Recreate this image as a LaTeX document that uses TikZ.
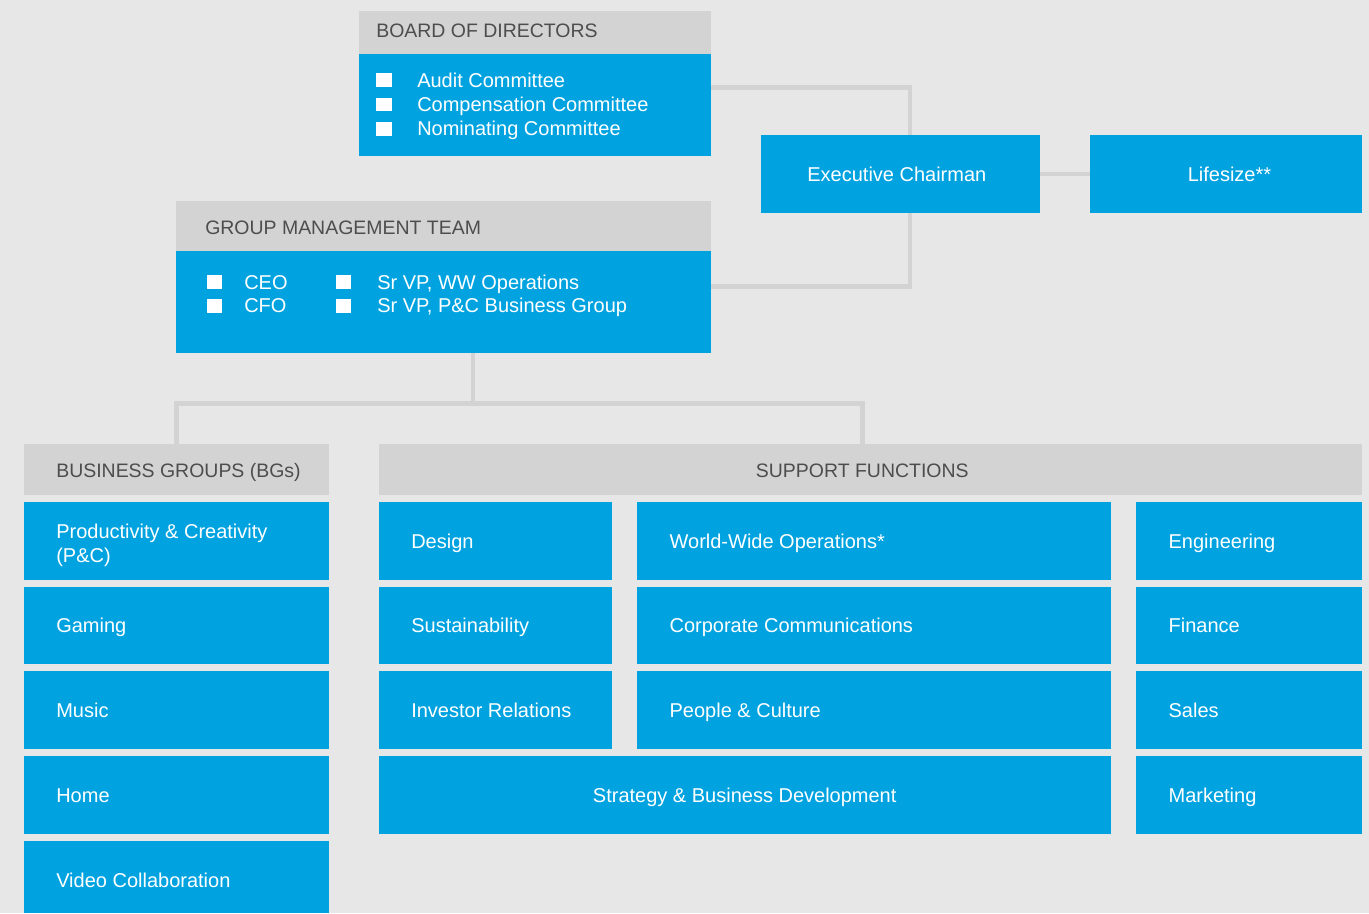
\documentclass[tikz,border=0pt]{standalone}
\usepackage{fontspec}
\setmainfont{Liberation Sans}
\definecolor{bgc}{HTML}{E7E7E7}
\definecolor{hdc}{HTML}{D3D3D3}
\definecolor{lnc}{HTML}{D3D3D3}
\definecolor{blc}{HTML}{00A3E0}
\definecolor{htc}{HTML}{4D4D4D}
\newcommand{\sqb}[1]{\rule{#1}{10.4pt}}
% name, style, x1, y1, x2, y2 (pixel coordinates)
\newcommand{\mkrect}[6]{\node[#2, minimum width={(#5-(#3))*0.75pt}, minimum height={(#6-(#4))*0.75pt}] (#1) at ({(#3+#5)/2},{(#4+#6)/2}) {};}
\tikzset{
  pxfont/.style={font=\fontsize{15pt}{17.8pt}\selectfont},
  hdfont/.style={font=\fontsize{14.6pt}{17.8pt}\selectfont},
  blk/.style={rectangle, inner sep=0pt, outer sep=0pt, draw=none},
  bluebox/.style={blk, fill=blc},
  headbox/.style={blk, fill=hdc},
  conn/.style={draw=lnc, line width=3.5pt, line join=miter},
  htext/.style={text=htc, hdfont, inner sep=0pt, anchor=base west},
  wtext/.style={text=white, pxfont, inner sep=0pt, anchor=base west},
  ctext/.style={text=white, pxfont, inner sep=0pt, anchor=base},
}
% left-aligned label inside a box
\newcommand{\lbl}[3]{\node[wtext] (#1) at ([xshift=24.25pt,yshift=-5.6pt]#2.west) {#3};}
\begin{document}
\begin{tikzpicture}[x=0.75pt,y=-0.75pt]
\fill[bgc] (0,0) rectangle (1369,913);
\useasboundingbox (0,0) rectangle (1369,913);

% ---------- boxes that sit under the connectors' ends
\mkrect{bodhead}{headbox}{358.8}{11}{710.5}{54}
\mkrect{bodblue}{bluebox}{358.8}{54}{710.5}{155.7}
\mkrect{gmthead}{headbox}{175.7}{201}{710.5}{251}
\mkrect{gmtblue}{bluebox}{175.7}{251}{710.5}{352.7}
\mkrect{bghead}{headbox}{23.7}{444}{328.6}{494.7}
\mkrect{sfhead}{headbox}{378.7}{444}{1362}{494.7}

% ---------- connectors
\coordinate (j1) at (910,87.3);
\coordinate (j2) at (910,286.7);
\draw[conn] (bodblue.east |- j1) -- (j1) -- (j2) -- (gmtblue.east |- j2);
\coordinate (t0) at (473,403.3);
\coordinate (tl) at (176.3,403.3);
\coordinate (tr) at (862.3,403.3);
\draw[conn] (gmtblue.south -| t0) -- (t0);
\draw[conn] (bghead.north -| tl) -- (tl) -- (tr) -- (sfhead.north -| tr);

% ---------- executive chairman / lifesize
\mkrect{exec}{bluebox}{760.6}{135}{1040}{212.7}
\mkrect{life}{bluebox}{1090}{135}{1362}{212.7}
\draw[conn] (exec.east) -- (life.west);
\node[ctext] (texec) at ([xshift=-2.6pt,yshift=-5.6pt]exec.center) {Executive Chairman};
\node[ctext] (tlife) at ([xshift=2.6pt,yshift=-5.6pt]life.center) {Lifesize**};

% ---------- board of directors
\node[htext] (tbod) at (376,37.3) {BOARD OF DIRECTORS};
\node[wtext] (b1) at (376,87.3) {\sqb{12pt}\hspace{18.75pt}Audit Committee};
\node[wtext] (b2) at (376,111.5) {\sqb{12pt}\hspace{18.75pt}Compensation Committee};
\node[wtext] (b3) at (376,135.8) {\sqb{12pt}\hspace{18.75pt}Nominating Committee};

% ---------- group management team
\node[htext] (tgmt) at (205,234.3) {GROUP MANAGEMENT TEAM};
\node[wtext] (g1) at (207,289) {\sqb{11.25pt}\hspace{16.5pt}CEO};
\node[wtext] (g2) at (207,312.7) {\sqb{11.25pt}\hspace{16.5pt}CFO};
\node[wtext] (g3) at (336,289) {\sqb{11.25pt}\hspace{19.5pt}Sr VP, WW Operations};
\node[wtext] (g4) at (336,312.7) {\sqb{11.25pt}\hspace{19.5pt}Sr VP, P\&C Business Group};

% ---------- headers
\node[htext] (tbg) at (56,477.3) {BUSINESS GROUPS (BGs)};
\node[htext, anchor=base] (tsf) at (862.3,477.3) {SUPPORT FUNCTIONS};

% ---------- business groups
\mkrect{pc}{bluebox}{23.7}{502}{328.6}{579.7}
\mkrect{gam}{bluebox}{23.7}{586.7}{328.6}{663.7}
\mkrect{mus}{bluebox}{23.7}{671}{328.6}{748.7}
\mkrect{hom}{bluebox}{23.7}{756}{328.6}{833.7}
\mkrect{vid}{bluebox}{23.7}{841}{328.6}{913}
\node[wtext] (tpc) at (56,538) {\parbox[t]{220pt}{\fontsize{15pt}{18pt}\selectfont Productivity \& Creativity\\(P\&C)}};
\lbl{tgam}{gam}{Gaming}
\lbl{tmus}{mus}{Music}
\lbl{thom}{hom}{Home}
\node[wtext] (tvid) at (56,887.5) {Video Collaboration};

% ---------- support functions
\mkrect{des}{bluebox}{378.7}{502}{611.7}{579.7}
\mkrect{sus}{bluebox}{378.7}{586.7}{611.7}{663.7}
\mkrect{inv}{bluebox}{378.7}{671}{611.7}{748.7}
\mkrect{wwo}{bluebox}{637}{502}{1110.7}{579.7}
\mkrect{cc}{bluebox}{637}{586.7}{1110.7}{663.7}
\mkrect{pcu}{bluebox}{637}{671}{1110.7}{748.7}
\mkrect{sbd}{bluebox}{378.7}{756}{1110.7}{833.7}
\mkrect{eng}{bluebox}{1136}{502}{1362}{579.7}
\mkrect{fin}{bluebox}{1136}{586.7}{1362}{663.7}
\mkrect{sal}{bluebox}{1136}{671}{1362}{748.7}
\mkrect{mkt}{bluebox}{1136}{756}{1362}{833.7}
\lbl{tdes}{des}{Design}
\lbl{tsus}{sus}{Sustainability}
\lbl{tinv}{inv}{Investor Relations}
\lbl{twwo}{wwo}{World-Wide Operations*}
\lbl{tcc}{cc}{Corporate Communications}
\lbl{tpcu}{pcu}{People \& Culture}
\node[ctext] (tsbd) at ([yshift=-5.6pt]sbd.center) {Strategy \& Business Development};
\lbl{teng}{eng}{Engineering}
\lbl{tfin}{fin}{Finance}
\lbl{tsal}{sal}{Sales}
\lbl{tmkt}{mkt}{Marketing}
\end{tikzpicture}
\end{document}
